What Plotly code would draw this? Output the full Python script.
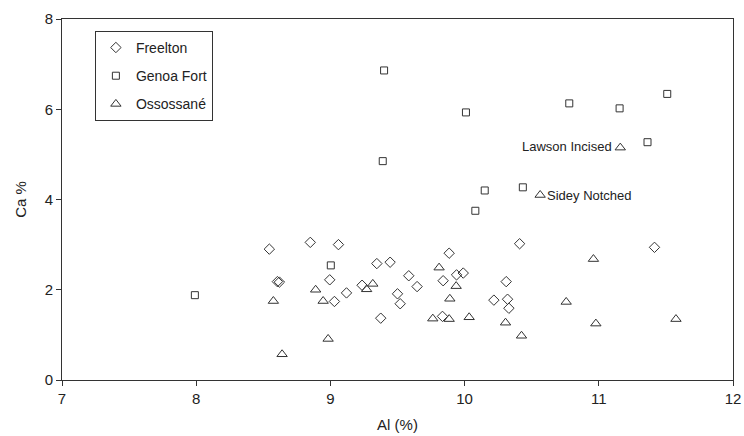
import plotly.graph_objects as go

# Freelton (diamonds)
freelton_al = [8.545, 8.85, 9.06, 8.605, 8.62, 8.995, 9.12, 9.03, 9.236, 9.346, 9.445, 9.375,
               9.584, 9.646, 9.50, 9.52, 9.885, 9.84, 9.94, 9.99, 9.835, 10.41, 10.31, 10.218,
               10.32, 10.33, 11.415]
freelton_ca = [2.90, 3.05, 3.00, 2.18, 2.17, 2.22, 1.93, 1.74, 2.10, 2.58, 2.61, 1.37,
               2.31, 2.07, 1.91, 1.69, 2.81, 2.20, 2.33, 2.37, 1.41, 3.02, 2.18, 1.77,
               1.79, 1.59, 2.94]

# Genoa Fort (squares)
genoa_al = [7.99, 9.003, 9.40, 9.39, 10.01, 10.78, 11.155, 11.51, 11.363, 10.15, 10.434, 10.08]
genoa_ca = [1.88, 2.54, 6.86, 4.85, 5.93, 6.13, 6.02, 6.34, 5.27, 4.20, 4.27, 3.75]

# Ossossané (triangles)
oss_al = [8.575, 8.89, 8.946, 8.983, 8.64, 9.27, 9.316, 9.81, 9.937, 9.89, 9.763, 9.885,
          10.034, 10.305, 10.424, 10.96, 10.757, 10.978, 11.575, 11.16, 10.563]
oss_ca = [1.75, 2.00, 1.75, 0.91, 0.57, 2.01, 2.13, 2.49, 2.08, 1.80, 1.36, 1.35,
          1.39, 1.27, 0.98, 2.68, 1.73, 1.25, 1.35, 5.15, 4.10]

# labelled points
label_names = ["Lawson Incised", "Sidey Notched"]
label_al = [11.16, 10.563]
label_ca = [5.15, 4.10]

x_ticks = [7, 8, 9, 10, 11, 12]
y_ticks = [0, 2, 4, 6, 8]

FONT = "Liberation Sans, Arial, sans-serif"
INK = "#333333"

fig = go.Figure()
fig.add_trace(go.Scatter(x=freelton_al, y=freelton_ca, mode="markers", name="Freelton", legendgroup="f",
                         marker=dict(symbol="diamond-open", size=8, color=INK, line=dict(width=1, color=INK))))
fig.add_trace(go.Scatter(x=genoa_al, y=genoa_ca, mode="markers", name="Genoa Fort", legendgroup="g",
                         marker=dict(symbol="square-open", size=7, color=INK, line=dict(width=1, color=INK))))
fig.add_trace(go.Scatter(x=oss_al, y=oss_ca, mode="markers", name="Ossossané", legendgroup="o",
                         marker=dict(symbol="triangle-up-open", size=9, color=INK, line=dict(width=1, color=INK))))

fig.add_annotation(x=label_al[0], y=label_ca[0], text=label_names[0], showarrow=False,
                   xanchor="right", xshift=-6, yshift=1, font=dict(size=13, color="#222", family=FONT))
fig.add_annotation(x=label_al[1], y=label_ca[1], text=label_names[1], showarrow=False,
                   xanchor="left", xshift=5, yshift=-1, font=dict(size=13, color="#222", family=FONT))

fig.update_layout(
    width=744, height=436,
    margin=dict(l=62, r=11, t=19, b=56),
    paper_bgcolor="white", plot_bgcolor="white",
    font=dict(family=FONT, size=14, color="#222"),
    showlegend=True,
    legend=dict(x=0.049, y=0.967, xanchor="left", yanchor="top",
                bordercolor=INK, borderwidth=1, bgcolor="white",
                font=dict(size=14, family=FONT), itemwidth=30, tracegroupgap=7),
    xaxis=dict(range=[7, 12], tickvals=x_ticks, ticks="outside", ticklen=5, tickcolor=INK,
               tickfont=dict(size=15), automargin=False,
               showline=True, linecolor=INK, linewidth=1, mirror=True, showgrid=False,
               zeroline=False, title=dict(text="Al (%)", standoff=13, font=dict(size=15))),
    yaxis=dict(range=[0, 8], tickvals=y_ticks, ticks="outside", ticklen=5, tickcolor=INK,
               tickfont=dict(size=15), automargin=False,
               showline=True, linecolor=INK, linewidth=1, mirror=True, showgrid=False,
               zeroline=False, title=dict(text="Ca %", standoff=14, font=dict(size=15))),
)

fig.write_html("out.html")
